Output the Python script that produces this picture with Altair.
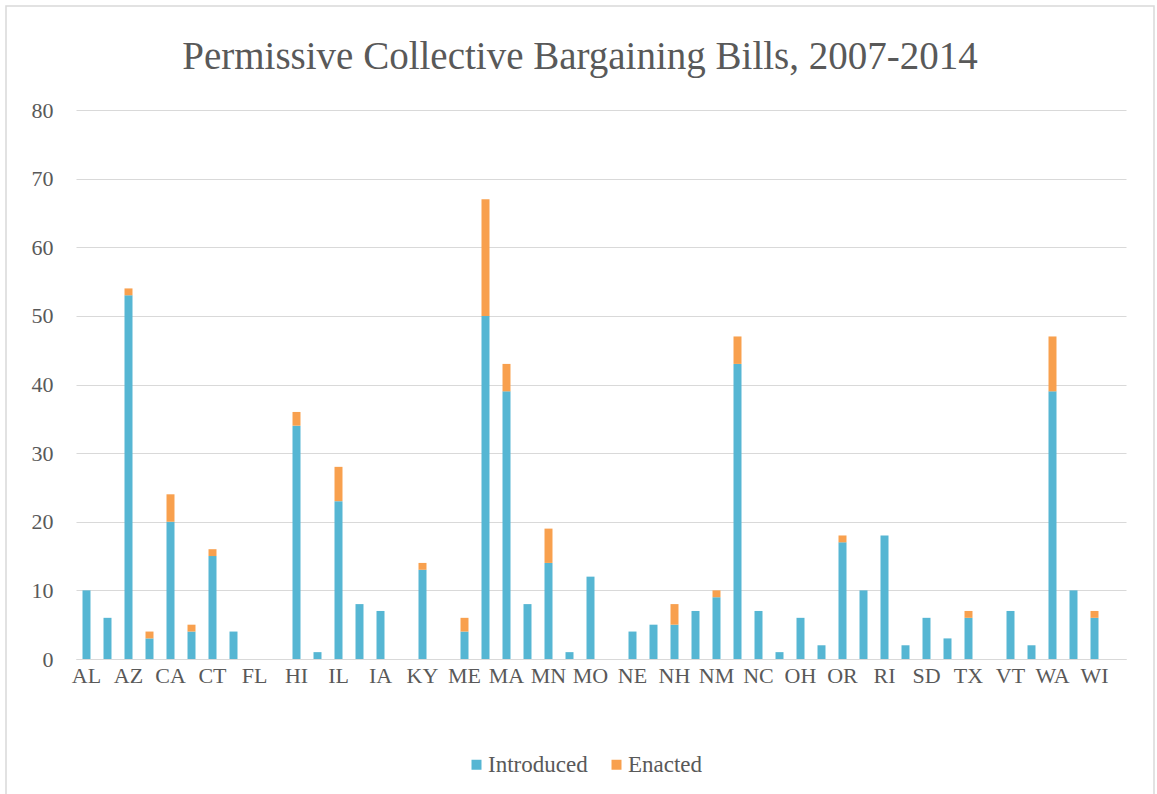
import altair as alt
import pandas as pd

# States in alphabetical order of their full names
states = ["AL", "AK", "AZ", "AR", "CA", "CO", "CT", "DE", "FL", "GA",
          "HI", "ID", "IL", "IN", "IA", "KS", "KY", "LA", "ME", "MD",
          "MA", "MI", "MN", "MS", "MO", "MT", "NE", "NV", "NH", "NJ",
          "NM", "NY", "NC", "ND", "OH", "OK", "OR", "PA", "RI", "SC",
          "SD", "TN", "TX", "UT", "VT", "VA", "WA", "WV", "WI", "WY"]

introduced = [10, 6, 53, 3, 20, 4, 15, 4, 0, 0,
              34, 1, 23, 8, 7, 0, 13, 0, 4, 50,
              39, 8, 14, 1, 12, 0, 4, 5, 5, 7,
              9, 43, 7, 1, 6, 2, 17, 10, 18, 2,
              6, 3, 6, 0, 7, 2, 39, 10, 6, 0]

enacted = [0, 0, 1, 1, 4, 1, 1, 0, 0, 0,
           2, 0, 5, 0, 0, 0, 1, 0, 2, 17,
           4, 0, 5, 0, 0, 0, 0, 0, 3, 0,
           1, 4, 0, 0, 0, 0, 1, 0, 0, 0,
           0, 0, 1, 0, 0, 0, 8, 0, 1, 0]

series_names = ["Introduced", "Enacted"]
series_colors = ["#56B6D3", "#F8A04E"]
y_ticks = [0, 10, 20, 30, 40, 50, 60, 70, 80]
labeled_states = states[::2]

rows = []
for s, i, e in zip(states, introduced, enacted):
    rows.append({"state": s, "series": "Introduced", "count": i, "stack_order": 0})
    rows.append({"state": s, "series": "Enacted", "count": e, "stack_order": 1})
df = pd.DataFrame(rows)

FONT = "Liberation Serif"
TEXT = "#595959"
GRID = "#D9D9D9"

bars = alt.Chart(df).mark_bar(size=8).encode(
    x=alt.X(
        "state:N",
        sort=states,
        scale=alt.Scale(paddingInner=0, paddingOuter=0),
        axis=alt.Axis(
            values=labeled_states, title=None, labelAngle=0, ticks=False,
            domain=True, domainColor=GRID, grid=False,
            labelFont=FONT, labelFontSize=22, labelColor=TEXT, labelPadding=6,
        ),
    ),
    y=alt.Y(
        "count:Q",
        stack="zero",
        scale=alt.Scale(domain=[0, 80], nice=False),
        axis=alt.Axis(
            values=y_ticks, title=None, domain=False, ticks=False,
            gridColor=GRID, gridWidth=1,
            labelFont=FONT, labelFontSize=22, labelColor=TEXT, labelPadding=23,
        ),
    ),
    color=alt.Color(
        "series:N",
        sort=series_names,
        scale=alt.Scale(domain=series_names, range=series_colors),
        legend=alt.Legend(
            title=None, orient="none", direction="horizontal",
            legendX=389, legendY=643,
            symbolType="square", symbolSize=100, symbolStrokeWidth=0,
            labelFont=FONT, labelFontSize=23, labelColor=TEXT,
            labelOffset=0, columnPadding=17,
        ),
    ),
    order=alt.Order("stack_order:Q"),
)

# Light frame around the whole chart
frame = alt.Chart(alt.Data(values=[{}])).mark_rect(
    fill=None, stroke=GRID, strokeWidth=1.5
).encode(
    x=alt.value(-70), x2=alt.value(1078),
    y=alt.value(-104), y2=alt.value(720),
)

chart = alt.layer(frame, bars).properties(
    width=1050,
    height=549,
    background="white",
    title=alt.TitleParams(
        text="Permissive Collective Bargaining Bills, 2007-2014",
        font=FONT, fontSize=39, fontWeight="normal", color=TEXT,
        anchor="middle", frame="group", dx=-21, offset=-72,
    ),
    autosize=alt.AutoSizeParams(type="none"),
    padding={"left": 76, "top": 110, "right": 31, "bottom": 135},
).configure_view(stroke=None).configure_legend(
    labelFont=FONT, labelFontSize=23, labelColor=TEXT
)

chart.save("out.html", embed_options={"renderer": "svg", "actions": False})
